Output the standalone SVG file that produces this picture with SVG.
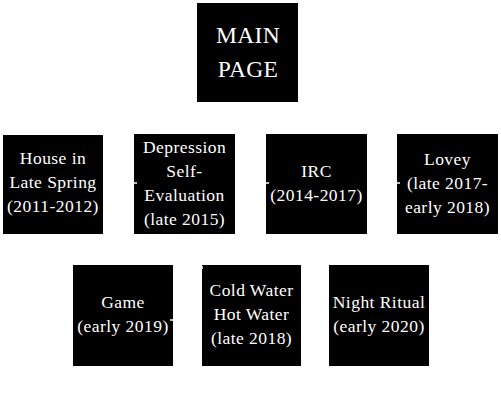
<svg xmlns="http://www.w3.org/2000/svg" width="501" height="404" viewBox="0 0 501 404">
<style>
.box{fill:#000}
.t{fill:#fff;font-family:"Liberation Serif","DejaVu Serif",serif;font-size:17.5px;text-anchor:middle;letter-spacing:0.45px}
.m{font-size:23.5px;letter-spacing:0.3px}
.c{stroke:#fff;stroke-width:1.5;fill:none}
</style>
<rect width="501" height="404" fill="#fff"/>
<g id="main">
<rect class="box" x="197" y="3" width="101" height="99"/>
<text class="t m" x="248" y="43">MAIN</text>
<text class="t m" x="248" y="77">PAGE</text>
</g>
<g id="house">
<rect class="box" x="3" y="135" width="100" height="99"/>
<text class="t" x="53" y="164">House in</text>
<text class="t" x="53" y="188">Late Spring</text>
<text class="t" x="53" y="212">(2011-2012)</text>
</g>
<g id="depression">
<rect class="box" x="134" y="134" width="101" height="100"/>
<text class="t" x="184.5" y="153">Depression</text>
<text class="t" x="184.5" y="177">Self-</text>
<text class="t" x="184.5" y="201">Evaluation</text>
<text class="t" x="184.5" y="225">(late 2015)</text>
</g>
<g id="irc">
<rect class="box" x="266" y="134" width="101" height="100"/>
<text class="t" x="316.5" y="177">IRC</text>
<text class="t" x="316.5" y="201">(2014-2017)</text>
</g>
<g id="lovey">
<rect class="box" x="397" y="134" width="101" height="100"/>
<text class="t" x="447.5" y="165">Lovey</text>
<text class="t" x="447.5" y="189">(late 2017-</text>
<text class="t" x="447.5" y="213">early 2018)</text>
</g>
<g id="game">
<rect class="box" x="73" y="265" width="100" height="101"/>
<text class="t" x="123" y="308">Game</text>
<text class="t" x="123" y="332">(early 2019)</text>
</g>
<g id="coldwater">
<rect class="box" x="202" y="265" width="99" height="101"/>
<text class="t" x="251.5" y="296">Cold Water</text>
<text class="t" x="251.5" y="320">Hot Water</text>
<text class="t" x="251.5" y="344">(late 2018)</text>
</g>
<g id="nightritual">
<rect class="box" x="329" y="265" width="100" height="101"/>
<text class="t" x="379" y="308">Night Ritual</text>
<text class="t" x="379" y="332">(early 2020)</text>
</g>
<g id="connectors">
<path class="c" d="M134 183h3M266 183h3M397 183h3M173 320h-3M202 266v3"/>
</g>
</svg>
